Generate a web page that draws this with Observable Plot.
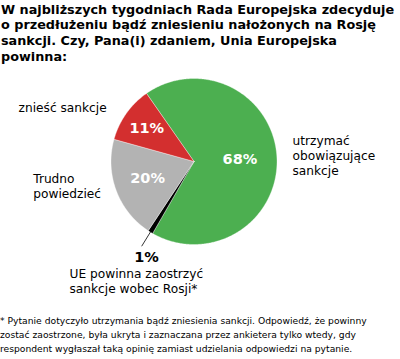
<!DOCTYPE html>
<html><head><meta charset="utf-8">
<script src="https://cdn.jsdelivr.net/npm/d3@7"></script>
<script src="https://cdn.jsdelivr.net/npm/@observablehq/plot@0.6"></script>
<style>
body{margin:0;background:#fff;width:400px;height:359px;overflow:hidden;font-family:"DejaVu Sans",Verdana,sans-serif;color:#000}
#title{position:absolute;left:1px;top:1.7px;font-weight:bold;font-size:12.8px;line-height:15.7px;white-space:nowrap}
#chart{position:absolute;left:0;top:66px}
#note{position:absolute;left:0;top:313.8px;font-size:9.2px;line-height:14px;white-space:nowrap}
</style></head><body>
<div id="title"></div><div id="chart"></div><div id="note"></div>
<script>
// ---- data ----
const titleLines = [
  "W najbliższych tygodniach Rada Europejska zdecyduje",
  "o przedłużeniu bądź zniesieniu nałożonych na Rosję",
  "sankcji. Czy, Pana(i) zdaniem, Unia Europejska",
  "powinna:"
];
const noteLines = [
  "* Pytanie dotyczyło utrzymania bądź zniesienia sankcji. Odpowiedź, że powinny",
  "zostać zaostrzone, była ukryta i zaznaczana przez ankietera tylko wtedy, gdy",
  "respondent wygłaszał taką opinię zamiast udzielania odpowiedzi na pytanie."
];
const categories = ["utrzymać\nobowiązujące\nsankcje", "UE powinna zaostrzyć\nsankcje wobec Rosji*", "Trudno\npowiedzieć", "znieść sankcje"];
const values = [68, 1, 20, 11];

// ---- styles / layout ----
const colors = ["#4caf50", "#000000", "#b3b3b3", "#d32f2f"];
const startDeg = -34.9;
const pctInside = [true, false, true, true];
const pctR = [0.56, 0, 0.59, 0.69];
const pctDy = [-4.5, 0, 0, 0];
// category label anchor points in pie units (radius = 1), last-line baseline
const catPos = [
  {x: 1.187, y: -0.157},
  {x: -1.5, y: -1.584},
  {x: -1.937, y: -0.434},
  {x: -2.114, y: 0.602}
];

document.getElementById("title").innerHTML = titleLines.join("<br>");
document.getElementById("note").innerHTML = noteLines.join("<br>");

const arcs = d3.pie().sort(null)
  .startAngle(startDeg * Math.PI / 180)
  .endAngle(startDeg * Math.PI / 180 + 2 * Math.PI)(values);

const slices = arcs.map((a, i) => {
  const pts = [{x: 0, y: 0}];
  const n = Math.max(4, Math.ceil((a.endAngle - a.startAngle) / 0.01));
  for (let k = 0; k <= n; k++) {
    const t = a.startAngle + (a.endAngle - a.startAngle) * k / n;
    pts.push({x: Math.sin(t), y: Math.cos(t)});
  }
  pts.push({x: 0, y: 0});
  return {pts, color: colors[i]};
});

const mid = a => (a.startAngle + a.endAngle) / 2;
const pctLabels = arcs.map((a, i) => ({
  x: Math.sin(mid(a)) * pctR[i], y: Math.cos(mid(a)) * pctR[i],
  text: values[i] + "%", dy: pctDy[i], inside: pctInside[i]
})).filter(d => d.inside);

const small = arcs[1];
const leader = [{
  x1: Math.sin(mid(small)) * 0.99, y1: Math.cos(mid(small)) * 0.99,
  x2: Math.sin(mid(small)) * 1.2, y2: Math.cos(mid(small)) * 1.2
}];
const smallPct = [{x: -0.572, y: -1.211, text: values[1] + "%"}];

const catLabels = categories.map((c, i) => ({...catPos[i], text: c}));

const R = 83, cx = 193.5, cy = 95, W = 400, H = 242;
const chart = Plot.plot({
  width: W, height: H,
  marginLeft: cx - R, marginRight: W - (cx + R),
  marginTop: cy - R, marginBottom: H - (cy + R),
  x: {domain: [-1, 1], axis: null},
  y: {domain: [-1, 1], axis: null},
  style: {fontFamily: '"DejaVu Sans", Verdana, sans-serif', background: "#fff", overflow: "visible"},
  marks: [
    ...slices.map(s => Plot.line(s.pts, {x: "x", y: "y", fill: s.color, stroke: "white", strokeWidth: 0.5, strokeOpacity: 0.7, curve: "linear"})),
    Plot.link(leader, {x1: "x1", y1: "y1", x2: "x2", y2: "y2", stroke: "#000", strokeWidth: 0.8}),
    Plot.text(pctLabels, {x: "x", y: "y", text: "text", dy: "dy", fill: "white", fontWeight: "bold", fontSize: 14.5, lineAnchor: "middle", textAnchor: "middle"}),
    Plot.text(smallPct, {x: "x", y: "y", text: "text", fill: "black", fontWeight: "bold", fontSize: 14.5, lineAnchor: "bottom", textAnchor: "middle"}),
    Plot.text(catLabels, {x: "x", y: "y", text: "text", fill: "black", fontSize: 12.2, lineHeight: 1.23, lineAnchor: "bottom", textAnchor: "start"})
  ]
});
document.getElementById("chart").appendChild(chart);
</script>
</body></html>
